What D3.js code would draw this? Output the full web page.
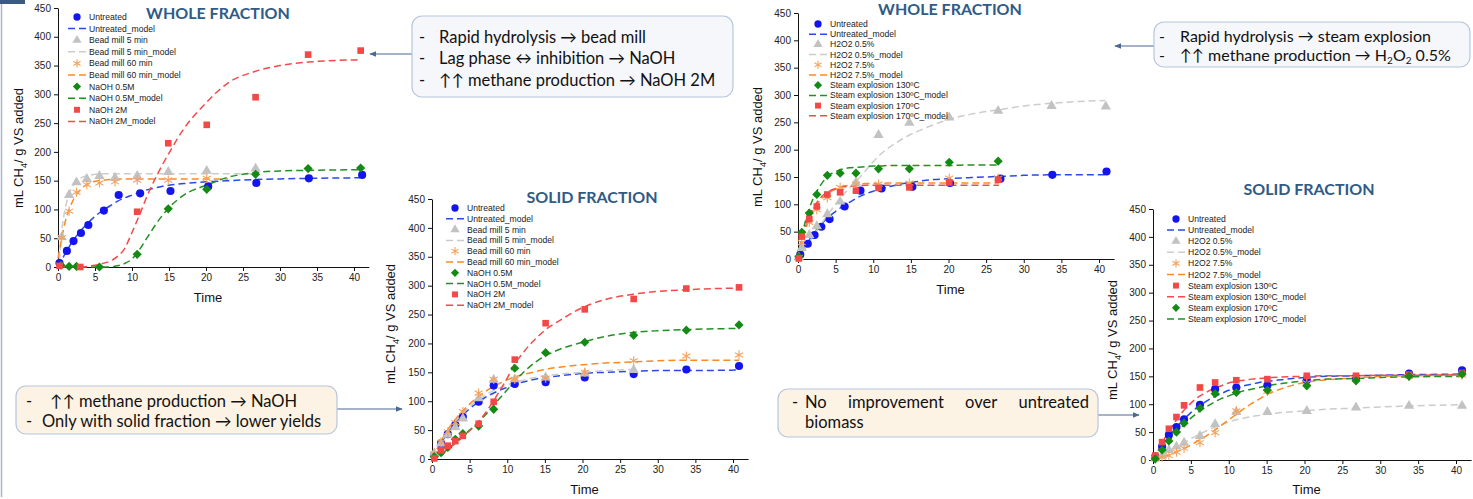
<!DOCTYPE html>
<html>
<head>
<meta charset="utf-8">
<script src="https://cdn.jsdelivr.net/npm/d3@7"></script>
<style>
  body { margin: 0; background: #fff; }
  svg { display: block; font-family: "Liberation Sans", Arial, sans-serif; }
  .tick text { font-size: 10px; fill: #222; }
  .note text { font-family: Lato, "Open Sans", sans-serif; font-size: 16.5px; fill: #111; }
  .title { font-family: Lato, "Open Sans", sans-serif; font-weight: bold; font-size: 16px; fill: #2f5b86; }
  .leg { font-size: 8.6px; fill: #222; }
  .axlab { font-size: 13px; fill: #111; }
</style>
</head>
<body>
<svg id="chart" width="1473" height="499"></svg>
<script>
// ---- data ----
const xTicks = [0, 5, 10, 15, 20, 25, 30, 35, 40];
const yTicks = [0, 50, 100, 150, 200, 250, 300, 350, 400, 450];
// time grid used for the fitted (model) curves
const gridT = [0, 0.5, 1, 1.5, 2, 3, 4, 5, 6, 7, 8, 9, 10, 11, 12, 13, 14, 15, 17, 20, 23, 26.7, 30, 33.8, 40.8];

const namesNaOH = ['Untreated', 'Bead mill 5 min', 'Bead mill 60 min', 'NaOH 0.5M', 'NaOH 2M'];
const namesWholeSE = ['Untreated', 'H2O2 0.5%', 'H2O2 7.5%', 'Steam explosion 130ºC', 'Steam explosion 170ºC'];

// whole fraction, bead mill / NaOH
const aUntrT = [0.2, 1.2, 2.1, 3.1, 4.1, 6.2, 8.2, 11.1, 15.2, 20.3, 26.8, 33.9, 41.1];
const aUntrY = [7, 28, 45, 59, 73, 98, 125, 128, 132, 140, 146, 154, 160];
const aUntrM = [0, 12, 24, 35, 45, 62, 76, 88, 98, 106, 114, 120, 125, 130, 134, 137, 140, 142, 145, 148, 150, 152, 153, 154, 155];
const aBm5T = [0.5, 1.5, 2.5, 3.9, 5.6, 7.7, 10.7, 14.9, 20.1, 26.7];
const aBm5Y = [52, 125, 147, 153, 158, 155, 158, 165, 167, 171];
const aBm5M = [10, 60, 103, 127, 141, 154, 159, 161, 162, 162, 162, 162, 162, 162, 162, 162, 162, 162, 162, 162, 162, 162];
const aBm60T = [0.5, 1.5, 2.5, 3.9, 5.6, 7.7, 10.7, 14.9, 20.1];
const aBm60Y = [51, 97, 130, 143, 146, 148, 151, 151, 154];
const aBm60M = [15, 50, 80, 100, 115, 134, 144, 149, 151, 152, 153, 153, 153, 153, 153, 153, 153, 153, 153, 153, 153];
const aN05T = [0.4, 1.5, 2.5, 5.6, 10.7, 14.9, 20.1, 26.7, 33.8, 40.9];
const aN05Y = [3, 1, 1, 0, 22, 101, 135, 161, 171, 172];
const aN05M = [0, 0, 0, 0, 0, 0, 0, 0, 0, 0, 2, 6, 14, 30, 50, 70, 88, 103, 125, 142, 156, 164, 167, 168, 169];
const aN2T = [0.2, 3.0, 10.7, 14.9, 20.1, 26.7, 33.8, 40.9];
const aN2Y = [2, 0, 96, 215, 247, 295, 369, 376];
const aN2M = [0, 0, 0, 0, 0, 0, 1, 3, 6, 10, 18, 32, 60, 90, 122, 150, 175, 198, 240, 285, 320, 340, 350, 356, 360];

// solid fraction, bead mill / NaOH
const bT = [0.3, 1.2, 2.1, 3.1, 4.1, 6.2, 8.2, 11, 15.1, 20.3, 26.8, 33.8, 40.8];
const bUntrY = [7, 27, 43, 59, 73, 99, 127, 130, 133, 141, 147, 155, 161];
const bUntrM = [0, 12, 23, 34, 44, 61, 75, 87, 97, 106, 113, 119, 124, 129, 133, 136, 139, 141, 144, 148, 150, 152, 153, 153, 154];
const bBm5Y = [10, 27, 42, 55, 70, 105, 137, 138, 141, 148, 154];
const bBm5M = [0, 13, 25, 36, 47, 64, 79, 91, 101, 110, 117, 123, 128, 133, 136, 139, 142, 144, 147, 150, 153, 155];
const bBm60Y = [9, 29, 47, 63, 82, 114, 138, 138, 140, 150, 170, 178, 180];
const bBm60M = [0, 13, 26, 38, 49, 67, 82, 95, 106, 116, 124, 131, 137, 142, 146, 149, 152, 155, 159, 163, 166, 168, 170, 171, 171];
const bN05Y = [4, 11, 20, 34, 44, 57, 86, 157, 184, 202, 214, 223, 232];
const bN05M = [0, 3, 6, 11, 16, 27, 39, 50, 62, 75, 90, 105, 120, 135, 148, 160, 170, 178, 190, 202, 212, 219, 222, 224, 226];
const bN2Y = [1, 15, 23, 31, 40, 61, 99, 172, 235, 259, 277, 295, 297];
const bN2M = [0, 3, 7, 11, 16, 26, 37, 49, 62, 78, 97, 118, 140, 165, 182, 198, 211, 223, 240, 262, 276, 285, 290, 293, 296];

// whole fraction, H2O2 / steam explosion
const cUntrT = [0.3, 1.3, 2.2, 3.1, 4.2, 6.2, 8.3, 11.1, 15.2, 20.2, 26.9, 33.8, 41];
const cUntrY = [8, 28, 44, 59, 73, 96, 125, 129, 132, 139, 147, 154, 160];
const cUntrM = [0, 12, 24, 35, 45, 62, 76, 87, 97, 105, 113, 119, 124, 128, 132, 135, 138, 140, 144, 147, 149, 151, 153, 154, 154];
const cT = [0.1, 0.5, 1.5, 2.5, 3.9, 5.6, 7.7, 10.7, 14.8, 20.1, 26.6, 33.7, 40.9];
const cH05Y = [3, 20, 44, 60, 82, 105, 140, 227, 249, 259, 271, 280, 279];
const cH05M = [0, 10, 20, 31, 42, 62, 82, 100, 117, 132, 146, 162, 178, 192, 203, 212, 221, 228, 240, 255, 265, 273, 280, 285, 290];
const cH75Y = [3, 30, 67, 90, 112, 131, 137, 137, 139, 148, 148];
const cH75M = [0, 30, 55, 73, 88, 108, 120, 128, 133, 135, 137, 138, 138, 138, 139, 139, 139, 139, 139, 139, 139, 139];
const cS130Y = [4, 49, 84, 118, 153, 157, 157, 165, 165, 177, 179];
const cS130M = [0, 40, 70, 92, 110, 135, 152, 160, 165, 167, 168, 169, 170, 170, 171, 171, 171, 171, 171, 171, 172, 172];
const cS170Y = [1, 41, 73, 96, 118, 122, 125, 130, 131, 140, 145];
const cS170M = [0, 35, 60, 78, 92, 112, 123, 129, 132, 133, 134, 135, 135, 135, 135, 135, 135, 135, 135, 135, 135, 135];

// solid fraction, H2O2 / steam explosion
const dUntrY = [6, 24, 45, 59, 73, 99, 127, 130, 134, 143, 148, 155, 161];
const dUntrM = [0, 10, 20, 30, 40, 57, 72, 85, 96, 105, 113, 119, 125, 129, 133, 136, 139, 141, 144, 148, 150, 151, 152, 153, 154];
const dH05Y = [3, 8, 18, 24, 31, 43, 64, 86, 86, 88, 94, 97, 97];
const dH05M = [0, 4, 8, 11, 15, 23, 30, 38, 45, 52, 58, 63, 68, 72, 75, 78, 80, 82, 85, 88, 91, 93, 95, 97, 99];
const dH75Y = [2, 5, 8, 14, 21, 31, 49, 88, 123, 138, 146, 150, 152];
const dH75M = [0, 2, 4, 6, 8, 14, 20, 27, 35, 43, 52, 62, 72, 82, 92, 101, 109, 117, 128, 139, 144, 147, 150, 151, 152];
const dS130Y = [8, 32, 56, 77, 98, 130, 139, 143, 145, 151, 151, 153, 156];
const dS130M = [0, 12, 25, 38, 50, 70, 88, 102, 113, 121, 128, 133, 138, 141, 143, 145, 146, 147, 149, 150, 151, 151, 152, 152, 153];
const dS170Y = [2, 18, 34, 50, 66, 93, 119, 121, 125, 133, 142, 150, 154];
const dS170M = [0, 7, 15, 23, 32, 48, 62, 75, 86, 95, 103, 110, 115, 120, 124, 127, 130, 133, 137, 142, 145, 146, 148, 149, 150];

// ---- styling ----
const col = {
  blue:   { m: '#1414f0', l: '#2a4ae6' },
  gray:   { m: '#c2c2c2', l: '#cccccc' },
  orange: { m: '#f5a25c', l: '#fb8a24' },
  green:  { m: '#138a13', l: '#239023' },
  red:    { m: '#f24848', l: '#f34a4a' }
};

function ser(name, t, y, m, c, shape) { return { name, t, y, m, c, shape }; }

const panels = [
  { title: 'WHOLE FRACTION', x0: 58, x40: 354, yb: 267, yt: 8, tx: 218, ty: 19, lx: 77, ly: 17, ldy: 11.6, ylx: 23, yly: 148, timeY: 302,
    series: [
      ser(namesNaOH[0], aUntrT, aUntrY, aUntrM, 'blue', 'circle'),
      ser(namesNaOH[1], aBm5T, aBm5Y, aBm5M, 'gray', 'triangle'),
      ser(namesNaOH[2], aBm60T, aBm60Y, aBm60M, 'orange', 'star'),
      ser(namesNaOH[3], aN05T, aN05Y, aN05M, 'green', 'diamond'),
      ser(namesNaOH[4], aN2T, aN2Y, aN2M, 'red', 'square')
    ] },
  { title: 'SOLID FRACTION', x0: 432, x40: 733, yb: 459, yt: 199, tx: 592, ty: 203, lx: 455, ly: 208, ldy: 10.8, ylx: 395, yly: 324, timeY: 494,
    series: [
      ser(namesNaOH[0], bT, bUntrY, bUntrM, 'blue', 'circle'),
      ser(namesNaOH[1], bT.slice(0, 11), bBm5Y, bBm5M, 'gray', 'triangle'),
      ser(namesNaOH[2], bT, bBm60Y, bBm60M, 'orange', 'star'),
      ser(namesNaOH[3], bT, bN05Y, bN05M, 'green', 'diamond'),
      ser(namesNaOH[4], bT, bN2Y, bN2M, 'red', 'square')
    ] },
  { title: 'WHOLE FRACTION', x0: 798, x40: 1099, yb: 259, yt: 13, tx: 950, ty: 15, lx: 818, ly: 24, ldy: 10.2, ylx: 762, yly: 147, timeY: 294,
    series: [
      ser(namesWholeSE[0], cUntrT, cUntrY, cUntrM, 'blue', 'circle'),
      ser(namesWholeSE[1], cT, cH05Y, cH05M, 'gray', 'triangle'),
      ser(namesWholeSE[2], cT.slice(0, 11), cH75Y, cH75M, 'orange', 'star'),
      ser(namesWholeSE[3], cT.slice(0, 11), cS130Y, cS130M, 'green', 'diamond'),
      ser(namesWholeSE[4], cT.slice(0, 11), cS170Y, cS170M, 'red', 'square')
    ] },
  { title: 'SOLID FRACTION', x0: 1153, x40: 1456, yb: 460, yt: 209, tx: 1309, ty: 195, lx: 1176, ly: 219, ldy: 11.1, ylx: 1117, yly: 340, timeY: 494,
    series: [
      ser(namesWholeSE[0], bT, dUntrY, dUntrM, 'blue', 'circle'),
      ser(namesWholeSE[1], bT, dH05Y, dH05M, 'gray', 'triangle'),
      ser(namesWholeSE[2], bT, dH75Y, dH75M, 'orange', 'star'),
      ser(namesWholeSE[3], bT, dS130Y, dS130M, 'red', 'square'),
      ser(namesWholeSE[4], bT, dS170Y, dS170M, 'green', 'diamond')
    ] }
];

const svg = d3.select('#chart');

// arrow head for the note connectors
svg.append('defs').append('marker')
  .attr('id', 'arr').attr('viewBox', '0 0 10 10')
  .attr('refX', 9).attr('refY', 5)
  .attr('markerWidth', 6).attr('markerHeight', 6)
  .attr('orient', 'auto-start-reverse')
  .append('path').attr('d', 'M0,1L10,5L0,9Z').attr('fill', '#4a6890');

// slide frame bits
svg.append('line').attr('x1', 1.5).attr('x2', 1.5).attr('y1', 4).attr('y2', 497)
  .attr('stroke', '#a9b6ca').attr('stroke-width', 1.5);
svg.append('rect').attr('x', 0).attr('y', 0).attr('width', 25).attr('height', 4).attr('fill', '#3b5a82');

function drawSymbol(g, shape, c, big) {
  const k = big ? 1 : 0.8;
  let p;
  if (shape === 'circle') p = g.append('path').attr('d', d3.symbol(d3.symbolCircle, 52 * k)());
  else if (shape === 'triangle') p = g.append('path').attr('d', d3.symbol(d3.symbolTriangle, 46 * k)());
  else if (shape === 'square') p = g.append('path').attr('d', d3.symbol(d3.symbolSquare, 44 * k)());
  else if (shape === 'diamond') p = g.append('path').attr('d', d3.symbol(d3.symbolSquare, 42 * k)()).attr('transform', 'rotate(45)');
  else {
    g.append('path').attr('d', d3.symbol(d3.symbolAsterisk, 60 * k)())
      .attr('fill', 'none').attr('stroke', col[c].m).attr('stroke-width', 1.1);
    return;
  }
  p.attr('fill', col[c].m);
}

panels.forEach(P => {
  const g = svg.append('g');
  const x = d3.scaleLinear().domain([0, 40]).range([P.x0, P.x40]);
  const xEnd = x(42);
  const y = d3.scaleLinear().domain([0, 450]).range([P.yb, P.yt]);

  g.append('g').attr('transform', `translate(0,${P.yb})`)
    .call(d3.axisBottom(x.copy().domain([0, 42]).range([P.x0, xEnd])).tickValues(xTicks).tickSize(4).tickSizeOuter(0).tickPadding(3));
  g.append('g').attr('transform', `translate(${P.x0},0)`)
    .call(d3.axisLeft(y).tickValues(yTicks).tickSize(4).tickSizeOuter(0).tickPadding(3));
  g.selectAll('.domain').attr('stroke', '#111');
  g.selectAll('.tick line').attr('stroke', '#111');

  // axis titles
  g.append('text').attr('class', 'axlab').attr('x', (P.x0 + P.x40) / 2 + 2).attr('y', P.timeY)
    .attr('text-anchor', 'middle').text('Time');
  const yl = g.append('text').attr('class', 'axlab')
    .attr('transform', `translate(${P.ylx},${P.yly}) rotate(-90)`).attr('text-anchor', 'middle');
  yl.append('tspan').text('mL CH');
  yl.append('tspan').attr('font-size', '9px').attr('dy', 4).text('4');
  yl.append('tspan').attr('dy', -4).text('/ g VS added');

  g.append('text').attr('class', 'title').attr('x', P.tx).attr('y', P.ty)
    .attr('text-anchor', 'middle').text(P.title);

  // model curves
  const line = d3.line().x(d => x(d[0])).y(d => y(d[1])).curve(d3.curveMonotoneX);
  P.series.forEach(s => {
    const pts = s.m.map((v, i) => [P === panels[0] && s.c === 'gray' && i === 0 ? 0.2 : gridT[i], v]);
    g.append('path').datum(pts).attr('d', line)
      .attr('fill', 'none').attr('stroke', col[s.c].l).attr('stroke-width', 1.5)
      .attr('stroke-dasharray', '7,4');
  });
  // measured points
  P.series.forEach(s => {
    s.y.forEach((v, i) => {
      const mg = g.append('g').attr('transform', `translate(${x(s.t[i])},${y(v)})`);
      drawSymbol(mg, s.shape, s.c, true);
    });
  });

  // legend
  const lg = g.append('g');
  P.series.forEach((s, i) => {
    const r1 = P.ly + i * 2 * P.ldy, r2 = r1 + P.ldy;
    const mg = lg.append('g').attr('transform', `translate(${P.lx},${r1})`);
    drawSymbol(mg, s.shape, s.c, false);
    lg.append('text').attr('class', 'leg').attr('x', P.lx + 12).attr('y', r1 + 3).text(s.name);
    lg.append('line').attr('x1', P.lx - 9).attr('x2', P.lx + 10).attr('y1', r2).attr('y2', r2)
      .attr('stroke', col[s.c].l).attr('stroke-width', 1.5).attr('stroke-dasharray', '7,4');
    lg.append('text').attr('class', 'leg').attr('x', P.lx + 12).attr('y', r2 + 3).text(s.name + '_model');
  });
});

// ---- notes ----
function note(bx, by, bw, bh, fill, conn) {
  const n = svg.append('g').attr('class', 'note');
  n.append('line').attr('x1', conn[0]).attr('y1', conn[1]).attr('x2', conn[2]).attr('y2', conn[1])
    .attr('stroke', '#4a6890').attr('stroke-width', 1.2).attr('marker-end', 'url(#arr)');
  n.append('rect').attr('x', bx).attr('y', by).attr('width', bw).attr('height', bh)
    .attr('rx', 10).attr('fill', fill).attr('stroke', '#b6c6df').attr('stroke-width', 1.2);
  return n;
}

const n1 = note(412, 16, 321, 81, '#f6f7fa', [412, 54, 370]);
[['Rapid hydrolysis → bead mill', 43], ['Lag phase ↔ inhibition → NaOH', 64], ['↑↑ methane production →  NaOH 2M', 86]].forEach(d => {
  n1.append('text').attr('x', 419).attr('y', d[1]).text('-');
  n1.append('text').attr('x', 439).attr('y', d[1]).text(d[0]);
});

const n2 = note(1154, 22, 316, 45, '#f6f7fa', [1154, 46, 1115]);
n2.selectAll('text').data([42, 61]).join('text').attr('x', 1159).attr('y', d => d).style('font-size', '16px').text('-');
n2.append('text').attr('x', 1180).attr('y', 42).style('font-size', '16px').text('Rapid hydrolysis → steam explosion');
const h2 = n2.append('text').attr('x', 1180).attr('y', 61).style('font-size', '16px');
h2.append('tspan').text('↑↑ methane production →  H');
h2.append('tspan').attr('dy', 3).style('font-size', '10px').text('2');
h2.append('tspan').attr('dy', -3).text('O');
h2.append('tspan').attr('dy', 3).style('font-size', '10px').text('2');
h2.append('tspan').attr('dy', -3).text(' 0.5%');

const n3 = note(16, 386, 321, 48, '#fdf3e4', [337, 409, 402]);
n3.append('text').attr('x', 26).attr('y', 407).text('-');
n3.append('text').attr('x', 50).attr('y', 407).text('↑↑ methane production →  NaOH');
n3.append('text').attr('x', 26).attr('y', 427).text('-');
n3.append('text').attr('x', 42).attr('y', 427).text('Only with solid fraction → lower yields');

// justified first line of the last note: spread the words between 805 and 1089
const n4 = note(778, 389, 320, 48, '#fdf3e4', [1098, 415, 1139]);
n4.append('text').attr('x', 792).attr('y', 408).text('-');
const words4 = ['No', 'improvement', 'over', 'untreated'];
const wt = words4.map(w => n4.append('text').attr('y', 408).text(w));
const widths = wt.map(t => t.node().getComputedTextLength());
const gap = (1089 - 805 - d3.sum(widths)) / (words4.length - 1);
let cx = 805;
wt.forEach((t, i) => { t.attr('x', cx); cx += widths[i] + gap; });
n4.append('text').attr('x', 805).attr('y', 428).text('biomass');
</script>
</body>
</html>
